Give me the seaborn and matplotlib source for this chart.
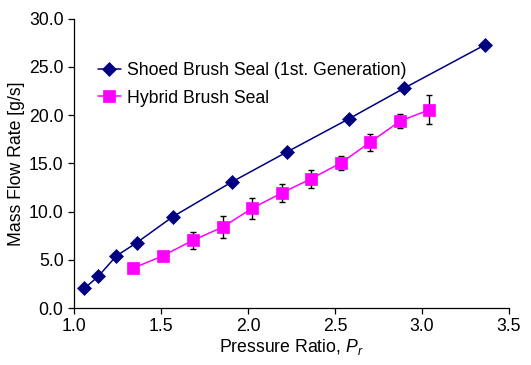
import matplotlib
matplotlib.use("Agg")
import matplotlib.pyplot as plt
import pandas as pd
import seaborn as sns

# ── data ─────────────────────────────────────────────────────
shoed_pr = [1.06, 1.14, 1.243, 1.36, 1.567, 1.91, 2.226, 2.578, 2.898, 3.364]
shoed_flow = [2.04, 3.3, 5.4, 6.77, 9.46, 13.1, 16.2, 19.6, 22.8, 27.3]

hybrid_pr = [1.341, 1.511, 1.682, 1.854, 2.023, 2.193, 2.362, 2.533, 2.703, 2.874, 3.042]
hybrid_flow = [4.14, 5.42, 7.01, 8.39, 10.33, 11.92, 13.4, 15.03, 17.2, 19.38, 20.55]
hybrid_err = [0.35, 0.2, 0.9, 1.1, 1.05, 0.9, 0.95, 0.77, 0.88, 0.75, 1.5]

shoed_label = "Shoed Brush Seal (1st. Generation)"
hybrid_label = "Hybrid Brush Seal"

shoed_df = pd.DataFrame({"pr": shoed_pr, "flow": shoed_flow})
hybrid_df = pd.DataFrame({"pr": hybrid_pr, "flow": hybrid_flow, "err": hybrid_err})

FS = 12.7

sns.set_style("white")
plt.rcParams["font.family"] = ["Liberation Sans", "DejaVu Sans"]
plt.rcParams["mathtext.fontset"] = "custom"
plt.rcParams["mathtext.it"] = "Liberation Sans:italic"
plt.rcParams["mathtext.rm"] = "Liberation Sans"
plt.rcParams["text.color"] = "black"
plt.rcParams["axes.labelcolor"] = "black"

fig = plt.figure(figsize=(5.31, 3.65), dpi=100)
ax = fig.add_axes([0.1394, 0.156, 0.8192, 0.793])

ax.errorbar(hybrid_df["pr"], hybrid_df["flow"], yerr=hybrid_df["err"],
            fmt="none", ecolor="black", elinewidth=1.0, capsize=2.5,
            capthick=1.0, zorder=1)

sns.lineplot(data=shoed_df, x="pr", y="flow", color="#000080", marker="D",
             markersize=7.5, markeredgewidth=0.5, markeredgecolor="#000080",
             linewidth=1.1, label=shoed_label, ax=ax, zorder=3)
sns.lineplot(data=hybrid_df, x="pr", y="flow", color="#FF00FF", marker="s",
             markersize=8.5, markeredgewidth=0.5, markeredgecolor="#FF00FF",
             linewidth=1.1, label=hybrid_label, ax=ax, zorder=2)

ax.set_xlim(1.0, 3.5)
ax.set_ylim(0, 30)
ax.set_xticks([1.0, 1.5, 2.0, 2.5, 3.0, 3.5])
ax.set_yticks([0, 5, 10, 15, 20, 25, 30])
ax.xaxis.set_major_formatter(matplotlib.ticker.FormatStrFormatter("%.1f"))
ax.yaxis.set_major_formatter(matplotlib.ticker.FormatStrFormatter("%.1f"))

for side in ("top", "right"):
    ax.spines[side].set_visible(False)
for side in ("left", "bottom"):
    ax.spines[side].set_color("black")
    ax.spines[side].set_linewidth(0.9)

ax.tick_params(axis="both", direction="out", length=4.5, width=0.9, pad=3,
               labelsize=FS, colors="black", bottom=True, left=True)
ax.set_xlabel("Pressure Ratio, $P_r$", fontsize=FS, labelpad=1)
ax.set_ylabel("Mass Flow Rate [g/s]", fontsize=FS, labelpad=3)

ax.legend(loc="upper left", bbox_to_anchor=(0.055, 0.85), frameon=False,
          fontsize=FS, handlelength=1.3, handletextpad=0.35,
          labelspacing=0.6, borderaxespad=0, borderpad=0)

fig.savefig("out.png", dpi=100)
plt.close(fig)
